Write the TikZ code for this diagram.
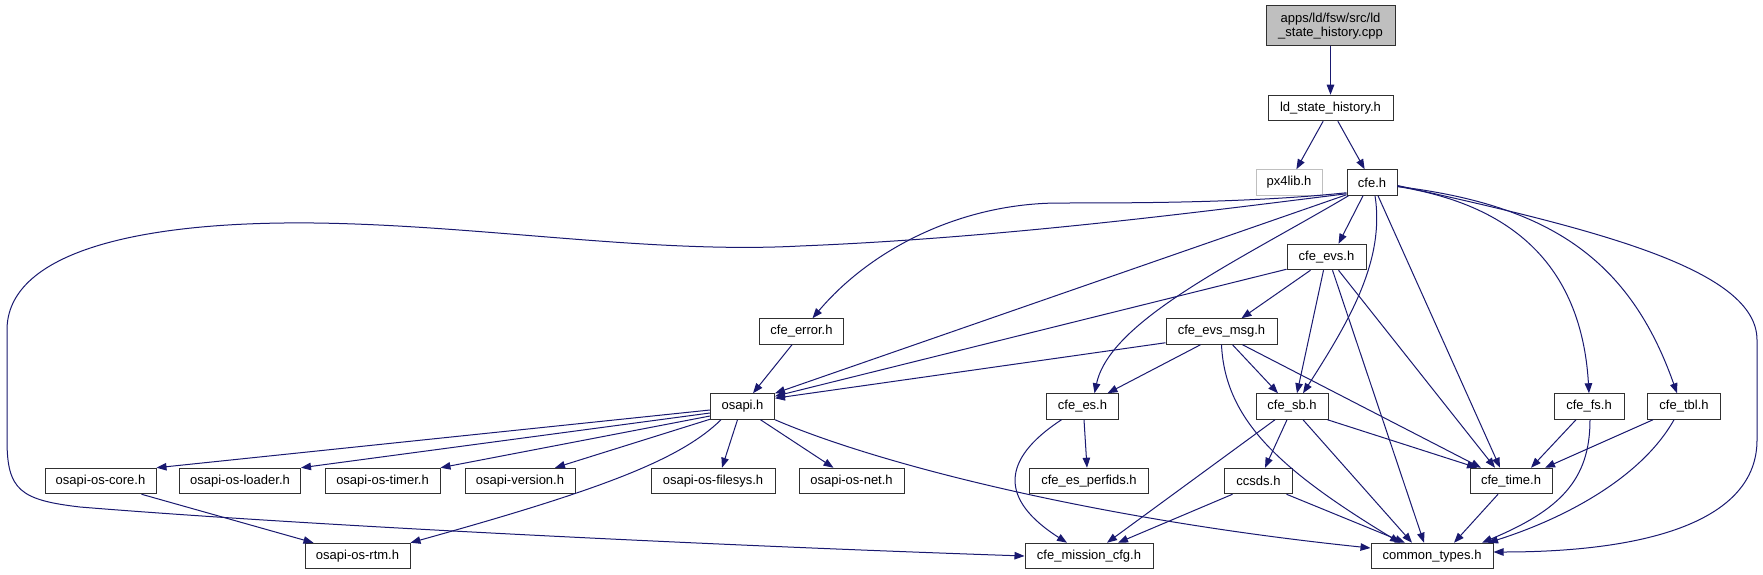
\documentclass[tikz,border=0pt]{standalone}
\usepackage{fontspec}
\setmainfont{Liberation Sans}
\usetikzlibrary{arrows.meta,calc}
\definecolor{edgeblue}{HTML}{191970}
\definecolor{grey75}{HTML}{BFBFBF}
\definecolor{boxline}{HTML}{303030}
\begin{document}
\begin{tikzpicture}[x=1pt,y=-1pt,
  box/.style={draw=boxline, line width=1pt, inner sep=0pt, minimum height=25.5pt,
    font=\fontsize{13}{14}\selectfont, text=black},
  edge/.style={draw=edgeblue, line width=1pt, -{Triangle[length=10pt,width=7.5pt]}},
]
\useasboundingbox[fill=white] (0,0) rectangle (1763,575);

% nodes
\node[box, fill=grey75, minimum width=129pt, minimum height=40pt, align=center] (root) at (1330.5,26) {apps/ld/fsw/src/ld\\\_state\_history.cpp};
\node[box, minimum width=125pt] (ld) at (1330.5,108) {ld\_state\_history.h};
\node[box, draw=grey75, minimum width=66pt] (px4lib) at (1289,182.5) {px4lib.h};
\node[box, minimum width=50pt] (cfe) at (1372,182.5) {cfe.h};
\node[box, minimum width=79pt] (cfe_evs) at (1326.5,257) {cfe\_evs.h};
\node[box, minimum width=84pt] (cfe_error) at (801.5,331.5) {cfe\_error.h};
\node[box, minimum width=111pt] (cfe_evs_msg) at (1221.5,331.5) {cfe\_evs\_msg.h};
\node[box, minimum width=64pt] (osapi) at (742.5,406.5) {osapi.h};
\node[box, minimum width=72pt] (cfe_es) at (1082.5,406.5) {cfe\_es.h};
\node[box, minimum width=72pt] (cfe_sb) at (1292,406.5) {cfe\_sb.h};
\node[box, minimum width=70pt] (cfe_fs) at (1589,406.5) {cfe\_fs.h};
\node[box, minimum width=73pt] (cfe_tbl) at (1684,406.5) {cfe\_tbl.h};
\node[box, minimum width=111pt] (core) at (100.5,481) {osapi-os-core.h};
\node[box, minimum width=121pt] (loader) at (240,481) {osapi-os-loader.h};
\node[box, minimum width=115pt] (timer) at (382.5,481) {osapi-os-timer.h};
\node[box, minimum width=110pt] (version) at (520,481) {osapi-version.h};
\node[box, minimum width=124pt] (filesys) at (713,481) {osapi-os-filesys.h};
\node[box, minimum width=105pt] (net) at (851.5,481) {osapi-os-net.h};
\node[box, minimum width=119pt] (perfids) at (1089,481) {cfe\_es\_perfids.h};
\node[box, minimum width=68pt] (ccsds) at (1258.5,481) {ccsds.h};
\node[box, minimum width=82pt] (cfe_time) at (1511,481) {cfe\_time.h};
\node[box, minimum width=105pt] (rtm) at (357.5,556) {osapi-os-rtm.h};
\node[box, minimum width=128pt] (mission) at (1089,556) {cfe\_mission\_cfg.h};
\node[box, minimum width=122pt] (common_types) at (1432,556) {common\_types.h};

% edges
\draw[edge] (root) -- (ld);
\draw[edge] (ld) -- (px4lib);
\draw[edge] (ld) -- (cfe);

% from cfe.h
\draw[edge] ($(cfe.south west)+(0,-3)$) .. controls (1250,203) and (1130,203) .. (1060,203)
  .. controls (960,203) and (870,250) .. ($(cfe_error.north)+(11,0)$);
\draw[edge] ($(cfe.south west)+(0,-2)$) .. controls (1200,212) and (1000,238) .. (800,246)
  .. controls (650,254) and (480,225) .. (314,223)
  .. controls (130,221) and (7,255) .. (7,330) -- (7,440)
  .. controls (7,490) and (20,500) .. (80,507)
  .. controls (300,525) and (700,545) .. (mission.west);
\draw[edge] ($(cfe.south west)+(0,-1)$) -- (osapi.north east);
\draw[edge] ($(cfe.south west)+(2,0)$) .. controls (1240,260) and (1110,320) .. ($(cfe_es.north)+(12,0)$);
\draw[edge] ($(cfe.south)+(-9,0)$) -- ($(cfe_evs.north)+(12,0)$);
\draw[edge] ($(cfe.south)+(3,0)$) .. controls (1385,260) and (1350,320) .. ($(cfe_sb.north)+(11,0)$);
\draw[edge] ($(cfe.south)+(6,0)$) -- ($(cfe_time.north)+(-11,0)$);
\draw[edge] ($(cfe.east)+(0,4)$) .. controls (1480,200) and (1580,240) .. (cfe_fs.north);
\draw[edge] ($(cfe.east)+(0,4)$) .. controls (1550,205) and (1630,260) .. ($(cfe_tbl.north)+(-7,0)$);
\draw[edge] ($(cfe.east)+(0,3)$) .. controls (1600,230) and (1757,270) .. (1757,340) -- (1757,440)
  .. controls (1757,520) and (1650,552) .. ($(common_types.east)+(0,-4)$);

% from cfe_evs.h
\draw[edge] ($(cfe_evs.south)+(-16,0)$) -- ($(cfe_evs_msg.north)+(20,0)$);
\draw[edge] ($(cfe_evs.south west)+(0,-1)$) -- ($(osapi.north east)+(0,3)$);
\draw[edge] ($(cfe_evs.south)+(-3,0)$) -- ($(cfe_sb.north)+(5,0)$);
\draw[edge] ($(cfe_evs.south)+(6,0)$) -- ($(common_types.north)+(-8,0)$);
\draw[edge] ($(cfe_evs.south)+(12,0)$) -- ($(cfe_time.north)+(-16,0)$);

% from cfe_evs_msg.h
\draw[edge] ($(cfe_evs_msg.south west)+(0,-2)$) -- ($(osapi.north east)+(0,5)$);
\draw[edge] ($(cfe_evs_msg.south)+(-21,0)$) -- ($(cfe_es.north)+(25,0)$);
\draw[edge] ($(cfe_evs_msg.south)+(11,0)$) -- ($(cfe_sb.north)+(-14,0)$);
\draw[edge] (cfe_evs_msg.south) .. controls (1225,420) and (1280,470) .. ($(common_types.north)+(-32,0)$);
\draw[edge] ($(cfe_evs_msg.south)+(21,0)$) -- ($(cfe_time.north)+(-30,0)$);

% from cfe_error.h
\draw[edge] ($(cfe_error.south)+(-9.5,0)$) -- ($(osapi.north)+(10.5,0)$);

% from osapi.h
\draw[edge] ($(osapi.west)+(0,3.5)$) -- (core.north east);
\draw[edge] ($(osapi.west)+(0,6.5)$) -- (loader.north east);
\draw[edge] ($(osapi.west)+(0,9.5)$) -- (timer.north east);
\draw[edge] ($(osapi.south west)+(0,-0.5)$) -- ($(version.north)+(35,0)$);
\draw[edge] ($(osapi.south west)+(11,0)$) .. controls (680,460) and (600,490) .. (rtm.north east);
\draw[edge] ($(osapi.south)+(-5,0)$) -- ($(filesys.north)+(9,0)$);
\draw[edge] ($(osapi.south)+(18,0)$) -- ($(net.north)+(-18,0)$);
\draw[edge] (osapi.south east) .. controls (880,465) and (1100,520) .. ($(common_types.west)+(0,-8)$);

% from osapi-os-core.h
\draw[edge] ($(core.south)+(41,0)$) -- ($(rtm.north)+(-44,0)$);

% from cfe_es.h
\draw[edge] ($(cfe_es.south)+(1.5,0)$) -- ($(perfids.north)+(-2,0)$);
\draw[edge] ($(cfe_es.south)+(-21,0)$) .. controls (1000,460) and (1000,500) .. ($(mission.north)+(-22,0)$);

% from cfe_sb.h
\draw[edge] ($(cfe_sb.south)+(-5,0)$) -- ($(ccsds.north)+(6.5,0)$);
\draw[edge] ($(cfe_sb.south)+(-17,0)$) -- ($(mission.north)+(18,0)$);
\draw[edge] ($(cfe_sb.south)+(11,0)$) -- ($(common_types.north)+(-20,0)$);
\draw[edge] ($(cfe_sb.south east)+(-1,0)$) -- ($(cfe_time.north)+(-34,0)$);

% from ccsds.h
\draw[edge] ($(ccsds.south)+(-26,0)$) -- ($(mission.north)+(29,0)$);
\draw[edge] ($(ccsds.south)+(28,0)$) -- ($(common_types.north)+(-27,0)$);

% from cfe_fs.h
\draw[edge] ($(cfe_fs.south)+(-13,0)$) -- ($(cfe_time.north)+(20,0)$);
\draw[edge] ($(cfe_fs.south)+(1,0)$) .. controls (1590,480) and (1560,510) .. ($(common_types.north)+(50,0)$);

% from cfe_tbl.h
\draw[edge] ($(cfe_tbl.south west)+(6,0)$) -- ($(cfe_time.north)+(34,0)$);
\draw[edge] ($(cfe_tbl.south)+(-10,0)$) .. controls (1640,480) and (1560,520) .. ($(common_types.north)+(56,0)$);

% from cfe_time.h
\draw[edge] ($(cfe_time.south)+(-13,0)$) -- ($(common_types.north)+(22,0)$);
\end{tikzpicture}
\end{document}
